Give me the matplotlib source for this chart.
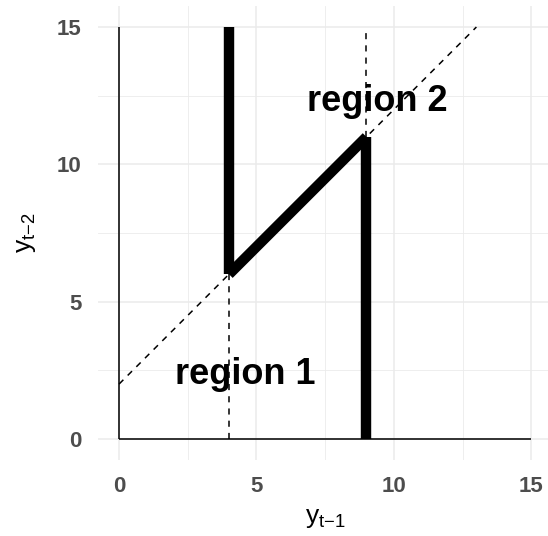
#!/usr/bin/env python3

import matplotlib
matplotlib.use("Agg")
import matplotlib.pyplot as plt

# Threshold-style path through the lag plane
path_x = [4, 4, 9, 9]
path_y = [15, 6, 11, 0]

# Dashed guide: y = x + 2, plus the two drop lines at the kinks
guide_x = [0, 13]
guide_y = [2, 15]
drop1_x = [4, 4]
drop1_y = [0, 6]
drop2_x = [9, 9]
drop2_y = [11, 15]

region_labels = ["region 1", "region 2"]
region_x = [4.6, 9.4]
region_y = [2.35, 12.3]

ticks = [0, 5, 10, 15]
minor_ticks = [2.5, 7.5, 12.5]

plt.rcParams['font.family'] = ['Liberation Sans', 'DejaVu Sans']
plt.rcParams['mathtext.fontset'] = 'custom'
plt.rcParams['mathtext.rm'] = 'Liberation Sans'
plt.rcParams['mathtext.it'] = 'Liberation Sans'

fig = plt.figure(figsize=(5.48, 5.36), dpi=100)
ax = fig.add_axes([0.1796, 0.1425, 0.8277, 0.8455])
ax.set_xlim(-0.75, 15.75)
ax.set_ylim(-0.75, 15.75)

for s in ax.spines.values():
    s.set_visible(False)

# grid
for v in ticks:
    ax.axvline(v, color='#ebebeb', lw=1.1, zorder=0)
    ax.axhline(v, color='#ebebeb', lw=1.1, zorder=0)
for v in minor_ticks:
    ax.axvline(v, color='#ebebeb', lw=0.6, zorder=0)
    ax.axhline(v, color='#ebebeb', lw=0.6, zorder=0)

# axis lines
ax.plot([0, 0], [0, 15], color='black', lw=1.1, solid_capstyle='butt')
ax.plot([0, 15], [0, 0], color='black', lw=1.1, solid_capstyle='butt')

# each leg of the path drawn on its own so the corners stay square-cut
for i in range(len(path_x) - 1):
    ax.plot(path_x[i:i + 2], path_y[i:i + 2], color='black', lw=7.5,
            solid_capstyle='butt', zorder=3)

for xs, ys in [(guide_x, guide_y), (drop1_x, drop1_y), (drop2_x, drop2_y)]:
    ax.plot(xs, ys, color='black', lw=1.1, dashes=(4, 4), zorder=2)

for lab, tx, ty in zip(region_labels, region_x, region_y):
    ax.text(tx, ty, lab, fontsize=26, fontweight='bold', ha='center',
            va='center', zorder=4)

ax.set_xticks(ticks)
ax.set_yticks(ticks)
ax.set_xticklabels([str(t) for t in ticks])
ax.set_yticklabels([str(t) for t in ticks])
ax.tick_params(length=0, labelsize=16, labelcolor='#4d4d4d', pad=12)
for lbl in ax.get_xticklabels() + ax.get_yticklabels():
    lbl.set_fontweight('bold')

ax.set_xlabel(r'$\mathregular{y_{\text{t\u22121}}}$'.replace('\\u2212', '\u2212'),
              fontsize=19, labelpad=6)
ax.set_ylabel(r'$\mathregular{y_{\text{t\u22122}}}$'.replace('\\u2212', '\u2212'),
              fontsize=19, labelpad=14)

fig.savefig("out.png", dpi=100)
